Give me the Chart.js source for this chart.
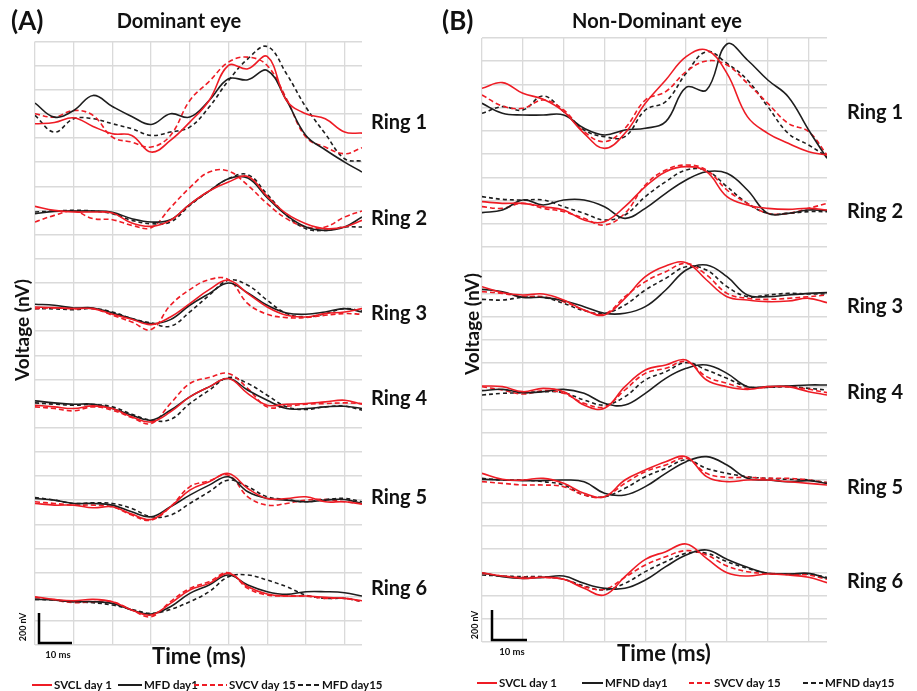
<!DOCTYPE html>
<html>
<head>
<meta charset="utf-8">
<script src="https://cdn.jsdelivr.net/npm/chart.js@4.4.1/dist/chart.umd.min.js"></script>
<style>
  body { margin: 0; background: #fff; }
  #wrap { position: relative; width: 917px; height: 691px; }
  canvas { position: absolute; top: 0; }
</style>
</head>
<body>
<div id="wrap">
  <canvas id="chartA" width="440" height="691" style="left:0"></canvas>
  <canvas id="chartB" width="477" height="691" style="left:440px"></canvas>
</div>
<script>
// time axis (ms), shared by every trace
var timeMs = [0, 5, 10, 15, 20, 25, 30, 35, 40, 45, 50, 55, 60, 65, 70, 75, 80, 84.5];
var ringLabels = ["Ring 1", "Ring 2", "Ring 3", "Ring 4", "Ring 5", "Ring 6"];

// where each ring's trace group sits on the voltage axis (nV)
var domRingOffset = [3138, 2562, 1992, 1482, 888, 342];
var nonRingOffset = [3174, 2580, 2010, 1494, 924, 360];

var domSeriesNames = ["SVCL day 1", "MFD day1", "SVCV day 15", "MFD day15"];
var nonSeriesNames = ["SVCL day 1", "MFND day1", "SVCV day 15", "MFND day15"];

// ---- Dominant eye (nV, relative to ring offset), one row per ring
var domSvclDay1 = [
  [-8, 0, 28, -24, -68, -78, -178, -108, 2, 132, 342, 322, 396, 132, 52, 22, -58, -64],
  [72, 48, 38, 38, 32, -28, -48, -12, 84, 164, 218, 252, 132, 28, -32, -62, -52, -12],
  [38, 34, 28, 28, -6, -36, -68, -22, 58, 142, 198, 118, 38, -12, -22, -2, 8, 28],
  [-42, -52, -62, -46, -62, -112, -142, -82, 8, 68, 118, 28, -42, -36, -32, -22, -12, -36],
  [-38, -48, -48, -64, -58, -102, -134, -58, 42, 92, 142, 52, -8, -8, 2, -28, -28, -42],
  [-52, -68, -76, -68, -82, -132, -162, -92, -12, 28, 88, 8, -36, -48, -48, -56, -62, -76]
];
var domMfdDay1 = [
  [116, 32, 72, 162, 96, 36, -12, 52, 32, 132, 262, 256, 312, 132, -78, -164, -238, -298],
  [28, 42, 44, 44, 36, -2, -22, -8, 84, 164, 238, 242, 124, 18, -52, -72, -52, 8],
  [54, 48, 32, 32, 2, -32, -62, -38, 48, 118, 182, 122, 48, 2, -6, 8, 28, 8],
  [-16, -28, -36, -36, -62, -102, -132, -72, 8, 68, 118, 48, -12, -62, -62, -52, -48, -62],
  [-8, -18, -38, -38, -48, -88, -118, -58, 12, 72, 122, 32, -8, -18, -28, -18, -14, -38],
  [-68, -72, -82, -82, -92, -132, -156, -112, -32, 18, 78, 18, -22, -38, -22, -22, -28, -48]
];
var domSvcvDay15 = [
  [52, 32, 72, 42, -88, -118, -148, -78, 132, 246, 362, 392, 342, 142, -88, -148, -188, -152],
  [-22, 18, 44, -2, -8, -42, -56, 64, 184, 278, 284, 198, 88, -2, -52, -52, 8, 44],
  [28, 32, 28, 28, -12, -52, -98, 48, 142, 202, 202, 58, -6, -26, -26, -12, -2, -6],
  [-52, -62, -76, -52, -72, -116, -152, -32, 88, 124, 148, 58, -52, -48, -36, -32, -28, -32],
  [-28, -38, -48, -48, -58, -108, -138, -58, 62, 98, 132, 2, -48, -38, -18, -14, -28, -38],
  [-56, -72, -88, -82, -82, -132, -172, -82, -2, 38, 92, -2, -42, -48, -48, -62, -62, -82]
];
var domMfdDay15 = [
  [42, -58, 22, 22, -8, -38, -78, -58, -28, 92, 252, 382, 456, 292, 92, -68, -218, -232],
  [38, 44, 48, 44, 28, -12, -32, -22, 78, 164, 238, 262, 144, 18, -62, -72, -52, -52],
  [28, 26, 22, 28, 8, -32, -58, -78, 8, 108, 198, 168, 78, -2, -22, -2, 28, 14],
  [-28, -36, -42, -38, -52, -96, -132, -128, -32, 48, 124, 88, 18, -52, -68, -52, -48, -72],
  [-2, -18, -38, -34, -38, -68, -118, -108, -38, 32, 102, 62, 2, -14, -28, -14, -8, -28],
  [-68, -72, -82, -88, -102, -128, -152, -128, -82, -22, 68, 78, 48, 8, -42, -62, -62, -82]
];

// ---- Non-Dominant eye
var nonSvclDay1 = [
  [148, 182, 118, 82, 8, -122, -212, -122, 58, 198, 338, 378, 238, -22, -122, -182, -232, -252],
  [62, 52, 52, 32, 12, -48, -58, 32, 152, 242, 272, 242, 92, 42, 22, 16, 22, 12],
  [122, 86, 72, 78, 42, -18, -48, 52, 182, 246, 266, 162, 62, 42, 32, 36, 52, 26],
  [42, 38, 8, 28, 8, -72, -92, 38, 138, 168, 198, 78, 38, 22, 38, 38, 8, -12],
  [88, 52, 48, 58, 28, -32, -52, 48, 108, 158, 188, 68, 38, 48, 48, 38, 28, 18],
  [56, 36, 22, 28, 16, -38, -78, 32, 136, 182, 228, 142, 56, 36, 48, 42, 28, -4]
];
var nonMfndDay1 = [
  [58, -2, -12, -12, -12, -92, -132, -102, -92, -52, 154, 138, 414, 318, 198, 98, -102, -272],
  [-4, 12, 72, 42, 72, 72, 32, -38, 22, 112, 192, 242, 232, 132, -8, -8, 12, 8],
  [106, 92, 58, 58, 38, 2, -38, -38, 2, 102, 222, 252, 182, 72, 62, 72, 82, 86],
  [14, 22, 2, 8, 22, -2, -62, -72, -2, 88, 148, 168, 118, 38, 38, 42, 48, 48],
  [52, 48, 44, 44, 48, 38, -32, -42, 8, 88, 158, 188, 138, 58, 48, 38, 44, 28],
  [56, 32, 22, 28, 36, -8, -38, -38, 12, 92, 162, 192, 136, 88, 52, 48, 52, 22]
];
var nonSvcvDay15 = [
  [108, 42, 28, 78, 18, -112, -172, -92, 78, 128, 248, 312, 288, 178, 58, -62, -112, -252],
  [32, 22, 52, 22, 2, -38, -78, -8, 162, 252, 282, 252, 132, 52, -8, -8, 22, 52],
  [92, 82, 62, 62, 32, -18, -42, 62, 152, 212, 262, 192, 82, 52, 46, 52, 62, 72],
  [38, 18, -6, 14, -2, -62, -82, 18, 118, 148, 188, 98, 58, 28, 34, 38, 22, 2],
  [38, 28, 18, 18, 8, -42, -52, 28, 98, 138, 178, 88, 64, 64, 58, 58, 48, 32],
  [52, 36, 28, 28, 16, -28, -44, 28, 102, 152, 188, 162, 96, 62, 52, 48, 42, 16]
];
var nonMfndDay15 = [
  [-2, 38, 18, 102, 8, -102, -142, -142, 18, 68, 238, 368, 298, 198, 38, -122, -192, -262],
  [92, 76, 72, 72, 32, -8, -48, -18, 92, 182, 252, 248, 152, 52, -8, -8, 2, 2],
  [46, 42, 58, 58, 22, -22, -38, 12, 102, 172, 242, 222, 122, 62, 72, 82, 78, 78],
  [-12, -2, 2, 8, 2, -42, -72, -22, 78, 128, 182, 138, 88, 38, 34, 38, 28, 18],
  [58, 48, 48, 38, 18, -42, -52, -2, 68, 118, 168, 118, 88, 68, 58, 52, 48, 32],
  [42, 36, 32, 32, 16, -24, -48, -8, 62, 122, 172, 172, 122, 82, 52, 48, 48, 28]
];

var RED = '#ee1c25';
var BLACK = '#1e1e1e';
var seriesStyle = [
  { color: RED, dash: [] },
  { color: BLACK, dash: [] },
  { color: RED, dash: [5, 3] },
  { color: BLACK, dash: [4, 3] }
];
var FONT = 'Lato, "Open Sans", sans-serif';

// draws panel letter, titles, ring names, scale bar and legend
var panelDeco = {
  id: 'panelDeco',
  afterDraw: function (chart) {
    var d = chart.options.plugins.panelDeco;
    var ctx = chart.ctx;
    var y = chart.scales.y;
    ctx.save();
    ctx.fillStyle = '#111';
    ctx.textBaseline = 'middle';

    ctx.textAlign = 'left';
    ctx.font = 'bold 26px ' + FONT;
    ctx.fillText(d.letter, d.letterX, 22);

    ctx.textAlign = 'center';
    ctx.font = 'bold 20px ' + FONT;
    ctx.fillText(d.title, d.titleX, 22);

    ctx.textAlign = 'left';
    ctx.font = 'bold 20px ' + FONT;
    d.offsets.forEach(function (off, i) {
      ctx.fillText(ringLabels[i], d.ringX, y.getPixelForValue(off));
    });

    ctx.textAlign = 'center';
    ctx.font = 'bold 22px ' + FONT;
    ctx.fillText('Time (ms)', d.timeX, d.timeY);

    ctx.save();
    ctx.translate(d.voltX, d.voltY);
    ctx.rotate(-Math.PI / 2);
    ctx.font = 'bold 19px ' + FONT;
    ctx.fillText('Voltage (nV)', 0, 0);
    ctx.restore();

    // scale bar
    var sb = d.scaleBar;
    ctx.strokeStyle = '#000';
    ctx.lineWidth = 2.5;
    ctx.beginPath();
    ctx.moveTo(sb.x, sb.y0);
    ctx.lineTo(sb.x, sb.y1);
    ctx.lineTo(sb.x2, sb.y1);
    ctx.stroke();
    ctx.save();
    ctx.translate(sb.nvX, sb.nvY);
    ctx.rotate(-Math.PI / 2);
    ctx.font = 'bold 9px ' + FONT;
    ctx.fillText('200 nV', 0, 0);
    ctx.restore();
    ctx.font = 'bold 9.5px ' + FONT;
    ctx.fillText('10 ms', sb.msX, sb.msY);

    // legend
    ctx.font = 'bold 11.5px ' + FONT;
    ctx.textAlign = 'left';
    d.legend.forEach(function (it, i) {
      var st = seriesStyle[i];
      ctx.strokeStyle = st.color;
      ctx.lineWidth = 2;
      ctx.setLineDash(st.dash.length ? [5, 3] : []);
      ctx.beginPath();
      ctx.moveTo(it[0], d.legendY);
      ctx.lineTo(it[1], d.legendY);
      ctx.stroke();
      ctx.setLineDash([]);
      ctx.fillStyle = '#111';
      ctx.fillText(d.names[i], it[2], d.legendY + 0.5);
    });
    ctx.restore();
  }
};

function makePanel(id, series, offsets, names, gridRows, pad, deco) {
  var yMax = 3624;
  var datasets = [];
  offsets.forEach(function (off, r) {
    series.forEach(function (vals, s) {
      datasets.push({
        label: names[s],
        data: timeMs.map(function (t, i) { return { x: t, y: off + vals[r][i] }; }),
        borderColor: seriesStyle[s].color,
        borderDash: seriesStyle[s].dash,
        borderWidth: 1.6,
        pointRadius: 0,
        tension: 0.4,
        fill: false
      });
    });
  });
  deco.offsets = offsets;
  deco.names = names;
  return new Chart(document.getElementById(id), {
    type: 'line',
    data: { datasets: datasets },
    options: {
      responsive: false,
      animation: false,
      devicePixelRatio: 1,
      layout: { padding: pad },
      scales: {
        x: {
          type: 'linear', min: 0, max: 84.5,
          ticks: { display: false, stepSize: 10, includeBounds: false },
          grid: { color: '#dadada', lineWidth: 1.3, drawTicks: false },
          border: { display: false }
        },
        y: {
          min: 0, max: yMax,
          afterBuildTicks: function (scale) {
            var t = [];
            for (var k = 0; k <= gridRows; k++) t.push({ value: yMax * k / gridRows });
            scale.ticks = t;
          },
          ticks: { display: false },
          grid: { color: '#dadada', lineWidth: 1.6, drawTicks: false },
          border: { display: false }
        }
      },
      plugins: {
        legend: { display: false },
        tooltip: { enabled: false },
        panelDeco: deco
      }
    },
    plugins: [panelDeco]
  });
}

makePanel('chartA',
  [domSvclDay1, domMfdDay1, domSvcvDay15, domMfdDay15],
  domRingOffset, domSeriesNames, 25,
  { left: 35, right: 78, top: 41.5, bottom: 46 },
  {
    letter: '(A)', letterX: 11, title: 'Dominant eye', titleX: 179,
    ringX: 371, timeX: 199, timeY: 657, voltX: 23, voltY: 330,
    scaleBar: { x: 39, y0: 613, y1: 643, x2: 72, nvX: 23, nvY: 627, msX: 58, msY: 655 },
    legendY: 685,
    legend: [[32, 52, 54], [118, 142, 144], [194, 227, 229], [298, 320, 322]]
  });

makePanel('chartB',
  [nonSvclDay1, nonMfndDay1, nonSvcvDay15, nonMfndDay15],
  nonRingOffset, nonSeriesNames, 26,
  { left: 42, right: 90, top: 38, bottom: 49 },
  {
    letter: '(B)', letterX: 2, title: 'Non-Dominant eye', titleX: 217,
    ringX: 407, timeX: 224, timeY: 654, voltX: 33, voltY: 324,
    scaleBar: { x: 52, y0: 610, y1: 640, x2: 87, nvX: 35, nvY: 625, msX: 72, msY: 652 },
    legendY: 683,
    legend: [[37, 57, 59], [142, 163, 165], [249, 272, 274], [363, 383, 385]]
  });
</script>
</body>
</html>
